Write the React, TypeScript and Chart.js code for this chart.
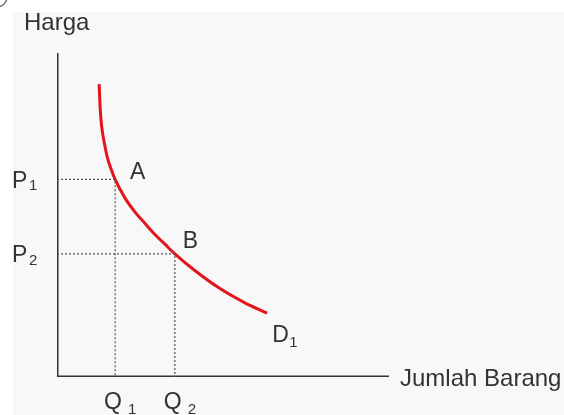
import React, { useEffect, useRef } from "react";
import { Chart, registerables } from "chart.js";

Chart.register(...registerables);

// Demand curve D1 (quantity, price) in chart units
const demandQty = [1.27, 1.3, 1.34, 1.42, 1.52, 1.64, 1.75, 2.05, 2.35, 2.65, 2.95, 3.25, 3.55, 4.16, 4.91, 5.66, 6.33];
const demandPrice = [9.04, 8.3, 7.78, 7.25, 6.76, 6.39, 6.1, 5.52, 5.09, 4.74, 4.4, 4.1, 3.8, 3.28, 2.73, 2.29, 1.97];

// Marked points on the curve
const pointNames = ["A", "B"];
const pointQty = [1.75, 3.55];
const pointPrice = [6.1, 3.8];
const priceLabels = ["1", "2"]; // subscripts for P
const qtyLabels = ["1", "2"]; // subscripts for Q

// Axis extents
const axisMax = 10;

const FONT = '"Liberation Sans", Arial, Helvetica, sans-serif';
const TEXT = "#333333";

// label offsets from the marked points (px)
const pointLabelDx = [15, 8];
const pointLabelDy = [0, -6];

const labelsPlugin = {
  id: "economicsLabels",
  beforeDraw(chart: any) {
    const { ctx } = chart;
    ctx.save();
    ctx.fillStyle = "#ffffff";
    ctx.fillRect(0, 0, chart.width, chart.height);
    ctx.fillStyle = "#f8f8f8";
    ctx.fillRect(13, 12, chart.width - 13, chart.height - 12);
    ctx.strokeStyle = "#777777";
    ctx.lineWidth = 1.5;
    ctx.beginPath();
    ctx.arc(-3, -3, 10, 0, Math.PI / 2);
    ctx.stroke();
    ctx.restore();
  },
  afterDraw(chart: any) {
    const { ctx } = chart;
    const xs = chart.scales.x;
    const ys = chart.scales.y;
    ctx.save();
    ctx.fillStyle = TEXT;
    ctx.textBaseline = "alphabetic";
    ctx.textAlign = "left";

    const big = `24px ${FONT}`;
    const mid = `23px ${FONT}`;
    const sub = `15px ${FONT}`;

    ctx.font = big;
    ctx.fillText("Harga", 24, 30);
    const xEnd = xs.getPixelForValue(axisMax);
    ctx.fillText("Jumlah Barang", xEnd + 11, ys.getPixelForValue(0) + 9);

    // price labels P1, P2
    pointPrice.forEach((p, i) => {
      const y = ys.getPixelForValue(p);
      ctx.font = mid;
      ctx.fillText("P", 12, y + 8.5);
      ctx.font = sub;
      ctx.fillText(priceLabels[i], 29, y + 11);
    });

    // quantity labels Q1, Q2
    const baseY = ys.getPixelForValue(0);
    pointQty.forEach((q, i) => {
      const x = xs.getPixelForValue(q);
      ctx.font = mid;
      ctx.fillText("Q", x - 11, baseY + 32);
      ctx.font = sub;
      ctx.fillText(qtyLabels[i], x + 13, baseY + 37);
    });

    // point names A, B
    ctx.font = mid;
    pointNames.forEach((n, i) => {
      const x = xs.getPixelForValue(pointQty[i]);
      const y = ys.getPixelForValue(pointPrice[i]);
      ctx.fillText(n, x + pointLabelDx[i], y + pointLabelDy[i]);
    });

    // curve name D1
    const last = demandQty.length - 1;
    const dx = xs.getPixelForValue(demandQty[last]);
    const dy = ys.getPixelForValue(demandPrice[last]);
    ctx.font = mid;
    ctx.fillText("D", dx + 5, dy + 29);
    ctx.font = sub;
    ctx.fillText("1", dx + 22, dy + 34);

    ctx.restore();
  },
};

export default function App() {
  const canvasRef = useRef<HTMLCanvasElement | null>(null);

  useEffect(() => {
    document.body.style.margin = "0";
    const canvas = canvasRef.current;
    if (!canvas) return;

    const guide = {
      borderColor: "#555555",
      borderWidth: 1.2,
      borderDash: [2, 2],
      pointRadius: 0,
      showLine: true,
      fill: false,
      tension: 0,
    };

    const guides = pointQty.map((q, i) => ({
      ...guide,
      data: [
        { x: 0, y: pointPrice[i] },
        { x: q, y: pointPrice[i] },
        { x: q, y: 0 },
      ],
    }));

    const chart = new Chart(canvas, {
      type: "scatter",
      data: {
        datasets: [
          ...guides,
          {
            data: [
              { x: 0, y: axisMax },
              { x: 0, y: 0 },
              { x: axisMax, y: 0 },
            ],
            showLine: true,
            borderColor: "#333333",
            borderWidth: 3,
            borderJoinStyle: "miter",
            pointRadius: 0,
            fill: false,
            tension: 0,
          },
          {
            data: demandQty.map((q, i) => ({ x: q, y: demandPrice[i] })),
            showLine: true,
            borderColor: "#e2141c",
            borderWidth: 3,
            cubicInterpolationMode: "monotone",
            borderCapStyle: "butt",
            borderJoinStyle: "round",
            pointRadius: 0,
            fill: false,
          },
        ] as any,
      },
      options: {
        animation: false,
        responsive: false,
        layout: { padding: { left: 57, right: 175, top: 53, bottom: 38 } },
        plugins: {
          legend: { display: false },
          tooltip: { enabled: false },
        },
        scales: {
          x: { type: "linear", min: 0, max: axisMax, display: false },
          y: { type: "linear", min: 0, max: axisMax, display: false },
        },
      },
      plugins: [labelsPlugin],
    });

    return () => chart.destroy();
  }, []);

  return <canvas ref={canvasRef} width={564} height={415} style={{ display: "block" }} />;
}
